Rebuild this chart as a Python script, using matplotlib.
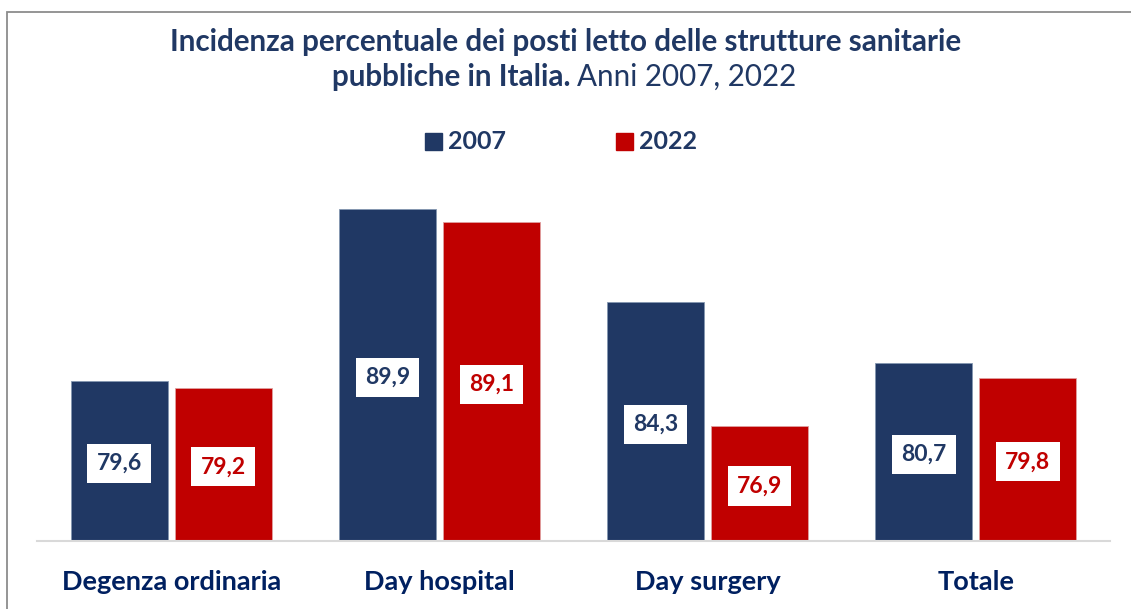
import matplotlib.pyplot as plt
import numpy as np
from matplotlib.patches import Rectangle

categories = ["Degenza ordinaria", "Day hospital", "Day surgery", "Totale"]
years = ["2007", "2022"]
v2007 = [79.6, 89.9, 84.3, 80.7]
v2022 = [79.2, 89.1, 76.9, 79.8]

navy = "#203864"
red = "#C00000"
plt.rcParams['font.family'] = ['Lato', 'DejaVu Sans']

fig = plt.figure(figsize=(11.31, 6.09), dpi=100)
W, H = 1131, 609

# grey frame (cropped at right and bottom in the reference)
fig.patches.append(Rectangle((7 / W, -0.1), 1.2, (H - 12) / H + 0.1, transform=fig.transFigure,
                             fill=False, edgecolor="#8c8c8c", lw=1.3))

ax = fig.add_axes([37 / W, (H - 541) / H, (1110 - 37) / W, (541 - 174) / H])
x = np.arange(len(categories))
w = 0.362
off = 0.194
b1 = ax.bar(x - off, np.array(v2007) - 70, w, bottom=70, color=navy, edgecolor="#8497b0", lw=0.6)
b2 = ax.bar(x + off, np.array(v2022) - 70, w, bottom=70, color=red, edgecolor="#e0a0a0", lw=0.6)
ax.set_ylim(70, 92)
ax.set_xlim(-0.5, 3.5)

for bars, vals, col in [(b1, v2007, navy), (b2, v2022, red)]:
    for r, v in zip(bars, vals):
        ax.text(r.get_x() + r.get_width() / 2, 70 + (v - 70) / 2 - 0.15, f"{v:.1f}".replace(".", ","),
                ha="center", va="center", fontsize=16.5, fontweight="bold", color=col,
                bbox=dict(boxstyle="square,pad=0.4", fc="white", ec="none"))

for s in ["top", "right", "left"]:
    ax.spines[s].set_visible(False)
ax.spines["bottom"].set_color("#d9d9d9")
ax.spines["bottom"].set_linewidth(1.5)
ax.set_yticks([])
ax.set_xticks(x)
ax.set_xticklabels(categories, fontsize=19.5, fontweight="bold", color="#002060")
ax.tick_params(axis="x", length=0, pad=21)

# title
fig.text(566 / W, 1 - 42 / H, "Incidenza percentuale dei posti letto delle strutture sanitarie",
         ha="center", va="center", fontsize=21.3, fontweight="bold", color=navy)
t1 = fig.text(0, 1 - 77 / H, "pubbliche in Italia. ", ha="left", va="center",
              fontsize=21.3, fontweight="bold", color=navy)
t2 = fig.text(0, 1 - 77 / H, "Anni 2007, 2022", ha="left", va="center",
              fontsize=21.3, color=navy)
fig.canvas.draw()
r = fig.canvas.get_renderer()
w1 = t1.get_window_extent(r).width
w2 = t2.get_window_extent(r).width
start = 564 - (w1 + w2) / 2
t1.set_x(start / W)
t2.set_x((start + w1) / W)

# legend
for lx, txt, col in [(425, years[0], navy), (616, years[1], red)]:
    fig.patches.append(Rectangle((lx / W, 1 - 150 / H), 17 / W, 17 / H, transform=fig.transFigure,
                                 color=col))
    fig.text((lx + 23) / W, 1 - 141 / H, txt, ha="left", va="center", fontsize=18,
             fontweight="bold", color=navy)

fig.savefig("out.png", dpi=100)
